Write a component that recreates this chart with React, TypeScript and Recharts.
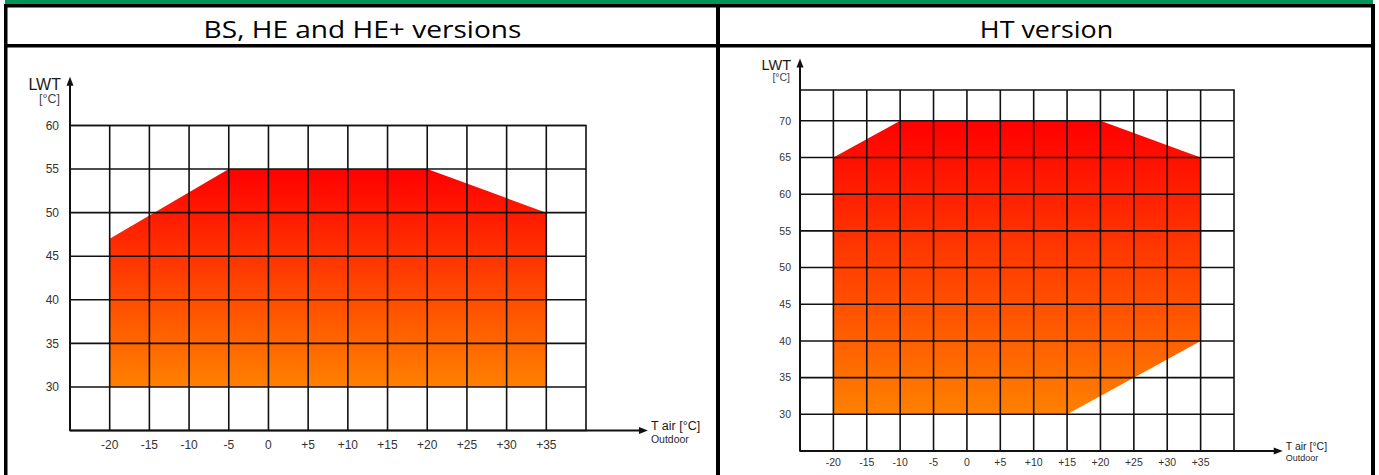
import React from 'react';
import { AreaChart, Area, XAxis, YAxis, ReferenceLine, ReferenceArea } from 'recharts';

// ---------- data ----------
const titles = ['BS, HE and HE+ versions', 'HT version'];
const tAirTicks = [-20, -15, -10, -5, 0, 5, 10, 15, 20, 25, 30, 35];
const tAirGrid = [-20, -15, -10, -5, 0, 5, 10, 15, 20, 25, 30, 35];
const tAirDomain = [-25, 40];

const bsLwtTicks = [30, 35, 40, 45, 50, 55, 60];
const bsLwtDomain = [25, 60];
const bsUpper = [[-20, 47], [-5, 55], [20, 55], [35, 50]];
const bsLower = [[-20, 30], [35, 30]];
const bsArrowEnds = { x: 47.8, y: 65.6 };

const htLwtTicks = [30, 35, 40, 45, 50, 55, 60, 65, 70];
const htLwtDomain = [25, 74.2];
const htUpper = [[-20, 65], [-10, 70], [20, 70], [35, 65]];
const htLower = [[-20, 30], [15, 30], [35, 40]];
const htArrowEnds = { x: 47.3, y: 78.5 };

// ---------- helpers ----------
function interp(pts: number[][], t: number): number {
  if (t <= pts[0][0]) return pts[0][1];
  for (let i = 1; i < pts.length; i++) {
    const [t0, v0] = pts[i - 1];
    const [t1, v1] = pts[i];
    if (t <= t1) return v0 + ((v1 - v0) * (t - t0)) / (t1 - t0);
  }
  return pts[pts.length - 1][1];
}

function envelope(upper: number[][], lower: number[][]) {
  const ts = Array.from(new Set([...upper, ...lower].map((p) => p[0]))).sort((a, b) => a - b);
  return ts.map((t) => ({ t, range: [interp(lower, t), interp(upper, t)] }));
}

const fmtT = (v: number) => (v > 0 ? `+${v}` : `${v}`);
const FONT = '"Liberation Sans", Arial, Helvetica, sans-serif';

type Sizes = {
  tick: number;
  tickMarginY: number;
  tickMarginX: number;
  lwt: number;
  unit: number;
  tair: number;
  outdoor: number;
};

function makeArrow(kind: 'x' | 'y', s: Sizes) {
  return (p: any) => {
    const { x1, y1, x2, y2 } = p;
    const len = Math.hypot(x2 - x1, y2 - y1) || 1;
    const ux = (x2 - x1) / len;
    const uy = (y2 - y1) / len;
    const L = 9;
    const W = 3.5;
    const bx = x2 - ux * L;
    const by = y2 - uy * L;
    const nx = -uy;
    const ny = ux;
    const pts = `${x2},${y2} ${bx + nx * W},${by + ny * W} ${bx - nx * W},${by - ny * W}`;
    return (
      <g>
        <line x1={x1} y1={y1} x2={bx + ux} y2={by + uy} stroke="#111" strokeWidth={2} />
        <polygon points={pts} fill="#111" />
        {kind === 'y' ? (
          <g fontFamily={FONT}>
            <text x={x2 - 9} y={y2 + s.lwt * 0.82} textAnchor="end" fontSize={s.lwt} fill="#1a1a1a">
              LWT
            </text>
            <text x={x2 - 10} y={y2 + s.lwt * 0.82 + s.unit * 1.05} textAnchor="end" fontSize={s.unit} fill="#3d4352">
              [°C]
            </text>
          </g>
        ) : (
          <g fontFamily={FONT}>
            <text x={x2 + 3} y={y2 - 1} textAnchor="start" fontSize={s.tair} fill="#1a1a1a">
              T air [°C]
            </text>
            <text x={x2 + 3} y={y2 + s.outdoor * 1.15} textAnchor="start" fontSize={s.outdoor} fill="#2a2a2a">
              Outdoor
            </text>
          </g>
        )}
      </g>
    );
  };
}

type ChartProps = {
  width: number;
  height: number;
  margin: { top: number; right: number; bottom: number; left: number };
  xAxisHeight: number;
  yDomain: number[];
  yTicks: number[];
  upper: number[][];
  lower: number[][];
  arrowEnds: { x: number; y: number };
  gradId: string;
  sizes: Sizes;
};

function EnvelopeChart(props: ChartProps) {
  const { width, height, margin, xAxisHeight, yDomain, yTicks, upper, lower, arrowEnds, gradId, sizes } = props;
  const data = envelope(upper, lower);
  const tickStyle = { fill: '#333', fontSize: sizes.tick, fontFamily: FONT };
  const yGrid = yTicks;
  return (
    <AreaChart width={width} height={height} data={data} margin={margin}>
      <defs>
        <linearGradient id={gradId} x1="0" y1="0" x2="0" y2="1">
          <stop offset="0%" stopColor="#FF0000" />
          <stop offset="100%" stopColor="#FF8000" />
        </linearGradient>
      </defs>
      <XAxis
        type="number"
        dataKey="t"
        domain={tAirDomain}
        ticks={tAirTicks}
        interval={0}
        tickFormatter={fmtT}
        axisLine={false}
        tickLine={false}
        tickSize={0}
        tickMargin={sizes.tickMarginX}
        height={xAxisHeight}
        tick={tickStyle}
        allowDataOverflow
      />
      <YAxis
        type="number"
        domain={yDomain}
        ticks={yTicks}
        interval={0}
        axisLine={false}
        tickLine={false}
        tickSize={0}
        tickMargin={sizes.tickMarginY}
        width={50}
        tick={tickStyle}
        allowDataOverflow
      />
      <Area
        type="linear"
        dataKey="range"
        stroke="none"
        fill={`url(#${gradId})`}
        fillOpacity={1}
        isAnimationActive={false}
        dot={false}
        activeDot={false}
      />
      {tAirGrid.map((v) => (
        <ReferenceLine key={`gx${v}`} x={v} stroke="#111" strokeWidth={1.6} />
      ))}
      {yGrid.map((v) => (
        <ReferenceLine key={`gy${v}`} y={v} stroke="#111" strokeWidth={1.6} />
      ))}
      <ReferenceArea
        x1={tAirDomain[0]}
        x2={tAirDomain[1]}
        y1={yDomain[0]}
        y2={yDomain[1]}
        fill="none"
        fillOpacity={0}
        stroke="#111"
        strokeWidth={1.6}
        ifOverflow="visible"
      />
      <ReferenceLine
        segment={[
          { x: tAirDomain[0], y: yDomain[0] },
          { x: tAirDomain[0], y: arrowEnds.y },
        ]}
        ifOverflow="visible"
        shape={makeArrow('y', sizes)}
      />
      <ReferenceLine
        segment={[
          { x: tAirDomain[0], y: yDomain[0] },
          { x: arrowEnds.x, y: yDomain[0] },
        ]}
        ifOverflow="visible"
        shape={makeArrow('x', sizes)}
      />
    </AreaChart>
  );
}

const bsSizes: Sizes = { tick: 12, tickMarginY: 11, tickMarginX: 10, lwt: 16, unit: 12.5, tair: 12.5, outdoor: 10.5 };
const htSizes: Sizes = { tick: 10.5, tickMarginY: 9, tickMarginX: 8, lwt: 14.5, unit: 10.5, tair: 10.5, outdoor: 9 };

export default function App() {
  return (
    <div
      style={{
        position: 'absolute',
        left: 0,
        top: 0,
        width: 1379,
        height: 475,
        overflow: 'hidden',
        background: '#fff',
      }}
    >
      <svg width={1379} height={475} style={{ position: 'absolute', left: 0, top: 0 }}>
        <rect x={5} y={0} width={1368} height={4} fill="#00965A" />
        <rect x={4} y={4} width={1371} height={3.5} fill="#000" />
        <rect x={4} y={44} width={1371} height={3.5} fill="#000" />
        <rect x={4} y={4} width={3.5} height={471} fill="#000" />
        <rect x={716} y={4} width={4} height={471} fill="#000" />
        <rect x={1371} y={4} width={4} height={471} fill="#000" />
        <g transform="translate(362.5,38) scale(1.17,1)">
          <text x={0} y={0} textAnchor="middle" fontFamily='"Open Sans", sans-serif' fontSize={24} fill="#000">
            {titles[0]}
          </text>
        </g>
        <g transform="translate(1046.5,38) scale(1.12,1)">
          <text x={0} y={0} textAnchor="middle" fontFamily='"Open Sans", sans-serif' fontSize={24} fill="#000">
            {titles[1]}
          </text>
        </g>
      </svg>
      <div style={{ position: 'absolute', left: 0, top: 0 }}>
        <EnvelopeChart
          width={716}
          height={475}
          margin={{ top: 125.5, right: 130, bottom: 14.5, left: 20 }}
          xAxisHeight={30}
          yDomain={bsLwtDomain}
          yTicks={bsLwtTicks}
          upper={bsUpper}
          lower={bsLower}
          arrowEnds={bsArrowEnds}
          gradId="gradBS"
          sizes={bsSizes}
        />
      </div>
      <div style={{ position: 'absolute', left: 720, top: 0 }}>
        <EnvelopeChart
          width={651}
          height={475}
          margin={{ top: 90, right: 137, bottom: 4, left: 30 }}
          xAxisHeight={20}
          yDomain={htLwtDomain}
          yTicks={htLwtTicks}
          upper={htUpper}
          lower={htLower}
          arrowEnds={htArrowEnds}
          gradId="gradHT"
          sizes={htSizes}
        />
      </div>
    </div>
  );
}
